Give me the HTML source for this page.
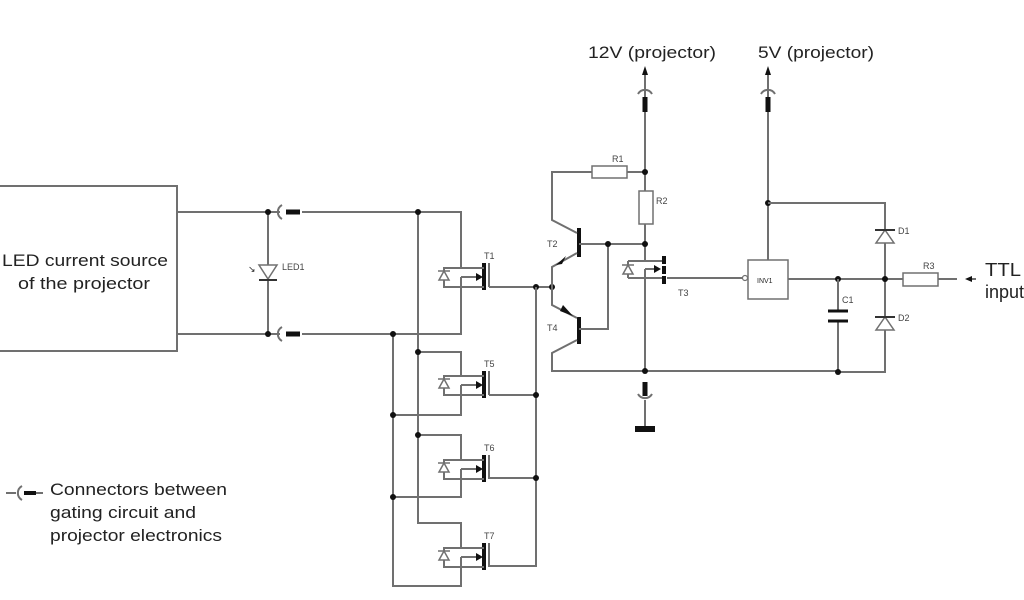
<!DOCTYPE html>
<html><head><meta charset="utf-8"><style>
html,body{margin:0;padding:0;background:#fff;}
svg{display:block;}
text{font-family:"Liberation Sans",Arial,sans-serif;fill:#222;}
.w{stroke:#707070;stroke-width:2;fill:none;}
.t{stroke:#111;stroke-width:4;fill:none;}
.d{fill:#111;}
.s{font-size:9px;fill:#444;}
</style></head><body>
<svg width="1024" height="600" viewBox="0 0 1024 600" xmlns="http://www.w3.org/2000/svg">
<defs>
<g id="mos">
  <line class="t" x1="0" y1="-14" x2="0" y2="13"/>
  <line class="w" x1="5" y1="-14" x2="5" y2="10"/>
  <polyline class="w" points="0,-9 -40,-9 -40,10 0,10"/>
  <line class="w" x1="-23" y1="0" x2="-6" y2="0"/>
  <polygon class="d" points="-1,0 -8,-4 -8,4"/>
  <polygon points="-40,-6 -45,3 -35,3" fill="#fff" stroke="#707070" stroke-width="1.5"/>
  <line x1="-46" y1="-6" x2="-34" y2="-6" stroke="#707070" stroke-width="1.5"/>
</g>
<g id="conR">
  <path d="M6,-7 A8,8 0 0 0 6,7" class="w"/>
  <line x1="10" y1="0" x2="24" y2="0" stroke="#111" stroke-width="5"/>
</g>
<g id="conU">
  <path d="M-7,6 A8,8 0 0 1 7,6" class="w"/>
  <line x1="0" y1="9" x2="0" y2="24" stroke="#111" stroke-width="5"/>
</g>
</defs>

<rect x="-5" y="186" width="182" height="165" class="w"/>
<text x="2" y="266" font-size="17" textLength="166" lengthAdjust="spacingAndGlyphs">LED current source</text>
<text x="18" y="289" font-size="17" textLength="132" lengthAdjust="spacingAndGlyphs">of the projector</text>

<polyline class="w" points="177,212 280,212"/>
<polyline class="w" points="302,212 461,212 461,268"/>
<polyline class="w" points="177,334 280,334"/>
<polyline class="w" points="302,334 461,334 461,277"/>
<use href="#conR" x="276" y="212"/>
<use href="#conR" x="276" y="334"/>
<line class="w" x1="268" y1="212" x2="268" y2="334"/>
<circle cx="268" cy="212" r="3" class="d"/><circle cx="268" cy="334" r="3" class="d"/>
<polygon points="259,265 277,265 268,279" fill="#fff" stroke="#707070" stroke-width="1.5"/>
<line x1="259" y1="280" x2="277" y2="280" stroke="#333" stroke-width="2"/>
<text x="248" y="272" font-size="9" fill="#444">↘</text>
<text x="282" y="270" class="s">LED1</text>

<polyline class="w" points="418,212 418,523 461,523 461,548"/>
<polyline class="w" points="393,334 393,586 461,586 461,557"/>
<circle cx="418" cy="212" r="3" class="d"/><circle cx="393" cy="334" r="3" class="d"/>

<use href="#mos" x="484" y="277"/>
<text x="484" y="259" class="s">T1</text>
<polyline class="w" points="489,287 552,287"/>
<circle cx="536" cy="287" r="3" class="d"/><circle cx="552" cy="287" r="3" class="d"/>
<polyline class="w" points="536,287 536,566 489,566"/>

<polyline class="w" points="418,352 461,352 461,376"/>
<polyline class="w" points="461,385 461,415 393,415"/>
<use href="#mos" x="484" y="385"/>
<text x="484" y="367" class="s">T5</text>
<line class="w" x1="489" y1="395" x2="536" y2="395"/>
<circle cx="418" cy="352" r="3" class="d"/><circle cx="393" cy="415" r="3" class="d"/><circle cx="536" cy="395" r="3" class="d"/>

<polyline class="w" points="418,435 461,435 461,460"/>
<polyline class="w" points="461,469 461,497 393,497"/>
<use href="#mos" x="484" y="469"/>
<text x="484" y="451" class="s">T6</text>
<line class="w" x1="489" y1="478" x2="536" y2="478"/>
<circle cx="418" cy="435" r="3" class="d"/><circle cx="393" cy="497" r="3" class="d"/><circle cx="536" cy="478" r="3" class="d"/>

<use href="#mos" x="484" y="557"/>
<text x="484" y="539" class="s">T7</text>

<line class="t" x1="579" y1="228" x2="579" y2="257"/>
<line class="t" x1="579" y1="317" x2="579" y2="344"/>
<polyline class="w" points="577,233 552,220 552,172 592,172"/>
<rect x="592" y="166" width="35" height="12" fill="#fff" stroke="#707070" stroke-width="1.5"/>
<text x="612" y="162" class="s">R1</text>
<line class="w" x1="627" y1="172" x2="645" y2="172"/>
<polyline class="w" points="577,253 552,267 552,305 577,318"/>
<polygon class="d" points="556,265 566,256 562,264"/>
<polygon class="d" points="573,316 563,305 560,311"/>
<polyline class="w" points="577,340 552,353 552,371 840,371"/>
<polyline class="w" points="579,244 645,244"/>
<polyline class="w" points="579,329 608,329 608,244"/>
<circle cx="608" cy="244" r="3" class="d"/>
<text x="547" y="247" class="s">T2</text>
<text x="547" y="331" class="s">T4</text>

<line class="w" x1="645" y1="70" x2="645" y2="191"/>
<polygon class="d" points="645,66 642,75 648,75"/>
<use href="#conU" x="645" y="88"/>
<text x="588" y="58" font-size="17" textLength="128" lengthAdjust="spacingAndGlyphs">12V (projector)</text>
<circle cx="645" cy="172" r="3" class="d"/>
<rect x="639" y="191" width="14" height="33" fill="#fff" stroke="#707070" stroke-width="1.5"/>
<text x="656" y="204" class="s">R2</text>
<line class="w" x1="645" y1="224" x2="645" y2="261"/>
<circle cx="645" cy="244" r="3" class="d"/>

<polyline class="w" points="628,261 664,261"/>
<polyline class="w" points="628,278 664,278"/>
<line class="w" x1="628" y1="261" x2="628" y2="278"/>
<polygon points="628,265 623,274 633,274" fill="#fff" stroke="#707070" stroke-width="1.5"/>
<line x1="622" y1="265" x2="634" y2="265" stroke="#707070" stroke-width="1.5"/>
<line class="w" x1="645" y1="269" x2="656" y2="269"/>
<polygon class="d" points="661,269 654,265 654,273"/>
<line class="w" x1="645" y1="269" x2="645" y2="371"/>
<line stroke="#111" stroke-width="4" stroke-dasharray="8,2" x1="664" y1="256" x2="664" y2="284"/>
<line class="w" x1="667" y1="278" x2="743" y2="278"/>
<circle cx="745" cy="278" r="2.5" fill="#fff" stroke="#707070" stroke-width="1.2"/>
<text x="678" y="296" class="s">T3</text>
<circle cx="645" cy="371" r="3" class="d"/>
<line x1="645" y1="382" x2="645" y2="396" stroke="#111" stroke-width="5"/>
<path d="M638,394 A8,8 0 0 0 652,394" class="w"/>
<line class="w" x1="645" y1="400" x2="645" y2="426"/>
<rect x="635" y="426" width="20" height="6" fill="#111"/>

<line class="w" x1="768" y1="70" x2="768" y2="260"/>
<polygon class="d" points="768,66 765,75 771,75"/>
<use href="#conU" x="768" y="88"/>
<text x="758" y="58" font-size="17" textLength="116" lengthAdjust="spacingAndGlyphs">5V (projector)</text>
<circle cx="768" cy="203" r="3" class="d"/>
<polyline class="w" points="768,203 885,203 885,372 840,372"/>
<rect x="748" y="260" width="40" height="39" fill="#fff" stroke="#707070" stroke-width="1.5"/>
<text x="757" y="283" font-size="7" fill="#444">INV1</text>
<line class="w" x1="788" y1="279" x2="903" y2="279"/>
<circle cx="838" cy="279" r="3" class="d"/><circle cx="885" cy="279" r="3" class="d"/>
<line class="w" x1="838" y1="279" x2="838" y2="310"/>
<line class="w" x1="838" y1="322" x2="838" y2="372"/>
<line x1="828" y1="311" x2="848" y2="311" stroke="#111" stroke-width="3"/>
<line x1="828" y1="321" x2="848" y2="321" stroke="#111" stroke-width="3"/>
<circle cx="838" cy="372" r="3" class="d"/>
<text x="842" y="303" class="s">C1</text>
<polygon points="885,230 876,243 894,243" fill="#fff" stroke="#707070" stroke-width="1.5"/>
<line x1="875" y1="230" x2="895" y2="230" stroke="#333" stroke-width="2"/>
<text x="898" y="234" class="s">D1</text>
<polygon points="885,317 876,330 894,330" fill="#fff" stroke="#707070" stroke-width="1.5"/>
<line x1="875" y1="317" x2="895" y2="317" stroke="#333" stroke-width="2"/>
<text x="898" y="321" class="s">D2</text>
<rect x="903" y="273" width="35" height="13" fill="#fff" stroke="#707070" stroke-width="1.5"/>
<text x="923" y="269" class="s">R3</text>
<line class="w" x1="938" y1="279" x2="957" y2="279"/>
<line class="w" x1="968" y1="279" x2="976" y2="279"/>
<polygon class="d" points="965,279 972,276 972,282"/>
<text x="985" y="276" font-size="18" textLength="36" lengthAdjust="spacingAndGlyphs">TTL</text>
<text x="985" y="298" font-size="18">input</text>

<line class="w" x1="6" y1="493" x2="16" y2="493"/>
<path d="M22,486 A8,8 0 0 0 22,500" class="w"/>
<line x1="24" y1="493" x2="36" y2="493" stroke="#111" stroke-width="4"/>
<line class="w" x1="36" y1="493" x2="43" y2="493"/>
<text x="50" y="495" font-size="17" textLength="177" lengthAdjust="spacingAndGlyphs">Connectors between</text>
<text x="50" y="518" font-size="17" textLength="146" lengthAdjust="spacingAndGlyphs">gating circuit and</text>
<text x="50" y="541" font-size="17" textLength="172" lengthAdjust="spacingAndGlyphs">projector electronics</text>
</svg>
</body></html>
